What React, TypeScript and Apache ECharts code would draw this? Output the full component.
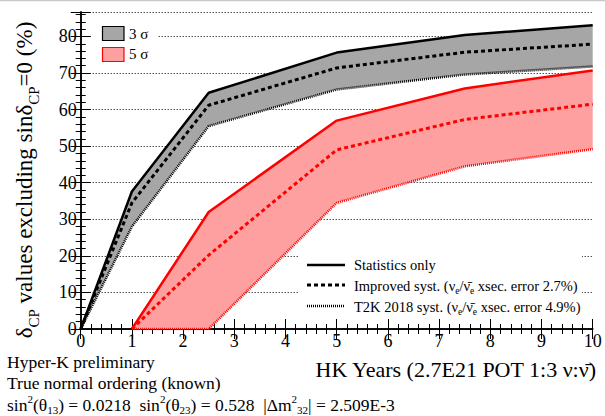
import React, { useEffect, useRef } from 'react';
import * as echarts from 'echarts';

const years = [0, 1, 2.5, 5, 7.5, 10];
const sigma3Stat = [0, 37.6, 64.6, 75.6, 80.4, 83.1];
const sigma3Improved = [0, 34.5, 61.2, 71.4, 75.7, 77.9];
const sigma3T2K = [0, 28, 55.5, 65.5, 69.6, 71.8];

const years5 = [1, 2.5, 5, 7.5, 10];
const sigma5Stat = [0, 32, 57, 65.8, 70.7];
const sigma5Improved = [0, 20.2, 49, 57.3, 61.5];
const sigma5T2K = [0, 0, 34.5, 44.5, 49.2];

const yTickValues = [0, 10, 20, 30, 40, 50, 60, 70, 80];
const xTickValues = [0, 1, 2, 3, 4, 5, 6, 7, 8, 9, 10];

const FONT = '"Liberation Serif", "Times New Roman", serif';
const GREY = '#a6a6a6';
const PINK = '#ffa0a0';

const pairs = (xs: number[], ys: number[]) => xs.map((x, i) => [x, ys[i]]);

export default function App() {
  const ref = useRef<HTMLDivElement>(null);
  useEffect(() => {
    if (!ref.current) return;
    const chart = echarts.init(ref.current, null, { renderer: 'svg' });

    const tick = { show: true, inside: true, length: 10, lineStyle: { color: '#000', width: 1 } };
    const minor = { show: true, splitNumber: 5, length: 5, lineStyle: { color: '#000', width: 1 } };
    const axisLine = { show: true, lineStyle: { color: '#000', width: 1.5 } };

    const lineSeries = (xs: number[], ys: number[], color: string, type: any, width: number) => ({
      type: 'line',
      data: pairs(xs, ys),
      symbol: 'none',
      z: 5,
      lineStyle: { color, type, width, cap: 'butt' },
      silent: true,
    });

    const band = (xs: number[], lo: number[], hi: number[], color: string) => ({
      type: 'custom',
      data: xs.map((x, i) => [x, lo[i], hi[i]]),
      encode: { x: 0, y: [1, 2] },
      z: 2,
      silent: true,
      renderItem: (params: any, api: any) => {
        if (params.dataIndex !== 0) return null;
        const top = xs.map((x, i) => api.coord([x, hi[i]]));
        const bottom = xs.map((x, i) => api.coord([x, lo[i]])).reverse();
        return {
          type: 'polygon',
          shape: { points: [...top, ...bottom] },
          style: { fill: color },
        };
      },
    });

    const option: any = {
      animation: false,
      grid: { left: 80.7, right: 12.3, top: 12, bottom: 87, containLabel: false },
      xAxis: [
        {
          type: 'value',
          min: 0,
          max: 10,
          interval: 1,
          position: 'bottom',
          axisLine,
          axisTick: tick,
          minorTick: minor,
          splitLine: { show: false },
          axisLabel: {
            color: '#000',
            fontFamily: FONT,
            fontSize: 18,
            lineHeight: 14,
            margin: 5,
            formatter: (v: number) => (xTickValues.includes(v) ? String(v) : ''),
          },
        },
        {
          type: 'value',
          min: 0,
          max: 10,
          interval: 1,
          position: 'top',
          axisLine,
          axisTick: tick,
          minorTick: minor,
          splitLine: { show: false },
          axisLabel: { show: false },
        },
      ],
      yAxis: [
        {
          type: 'value',
          min: 0,
          max: 86.7,
          interval: 10,
          position: 'left',
          axisLine,
          axisTick: tick,
          minorTick: minor,
          splitLine: { show: true, lineStyle: { color: '#000', type: [1, 2], width: 1 } },
          axisLabel: {
            color: '#000',
            fontFamily: FONT,
            fontSize: 18,
            margin: 4,
            showMaxLabel: false,
            formatter: (v: number) => (yTickValues.includes(v) ? String(v) : ''),
          },
        },
        {
          type: 'value',
          min: 0,
          max: 86.7,
          interval: 10,
          position: 'right',
          axisLine,
          axisTick: tick,
          minorTick: minor,
          splitLine: { show: false },
          axisLabel: { show: false },
        },
      ],
      series: [
        band(years, sigma3T2K, sigma3Stat, GREY),
        band(years5, sigma5T2K, sigma5Stat, PINK),
        lineSeries(years, sigma3T2K, '#000', [1, 1], 2.5),
        lineSeries(years, sigma3Improved, '#000', [4, 3], 3),
        lineSeries(years, sigma3Stat, '#000', 'solid', 2.5),
        lineSeries(years5, sigma5T2K, '#ff0000', [1, 1], 2.5),
        lineSeries(years5, sigma5Improved, '#ff0000', [4, 3], 3),
        lineSeries(years5, sigma5Stat, '#ff0000', 'solid', 2.5),
      ],
      graphic: [
        { type: 'line', z: 51, shape: { x1: 0, y1: 0.5, x2: 605, y2: 0.5 }, style: { stroke: '#c8c8c8', lineWidth: 1.5 } },
        // top-left legend
        { type: 'rect', z: 50, shape: { x: 92, y: 20, width: 66, height: 46 }, style: { fill: '#fff' } },
        { type: 'rect', z: 51, shape: { x: 102.5, y: 26.5, width: 21.5, height: 14 }, style: { fill: GREY, stroke: '#000', lineWidth: 1.2 } },
        { type: 'text', z: 51, x: 129, y: 34, style: { text: '3 σ', fontFamily: FONT, fontSize: 15, fill: '#000', verticalAlign: 'middle' } },
        { type: 'rect', z: 51, shape: { x: 102.5, y: 47.5, width: 21.5, height: 14 }, style: { fill: PINK, stroke: '#ff0000', lineWidth: 1.2 } },
        { type: 'text', z: 51, x: 129, y: 54, style: { text: '5 σ', fontFamily: FONT, fontSize: 15, fill: '#000', verticalAlign: 'middle' } },
        // bottom-right legend
        { type: 'rect', z: 50, shape: { x: 298, y: 252, width: 284, height: 66 }, style: { fill: '#fff' } },
        { type: 'line', z: 51, shape: { x1: 307, y1: 265, x2: 345, y2: 265 }, style: { stroke: '#000', lineWidth: 2.5 } },
        { type: 'line', z: 51, shape: { x1: 307, y1: 285, x2: 345, y2: 285 }, style: { stroke: '#000', lineWidth: 3, lineDash: [4, 3] } },
        { type: 'line', z: 51, shape: { x1: 307, y1: 306, x2: 345, y2: 306 }, style: { stroke: '#000', lineWidth: 2.5, lineDash: [1, 1] } },
        {
          type: 'text', z: 51, x: 354, y: 265,
          style: { text: 'Statistics only', fontFamily: FONT, fontSize: 14.5, fill: '#000', verticalAlign: 'middle' },
        },
        {
          type: 'text', z: 51, x: 354, y: 286,
          style: {
            text: '{n|Improved syst. (ν}{s|e}{n|/ν\u0304}{s|e}{n| xsec. error 2.7%)}',
            verticalAlign: 'middle',
            rich: {
              n: { fontFamily: FONT, fontSize: 14.5, lineHeight: 20, fill: '#000', verticalAlign: 'middle' },
              s: { fontFamily: FONT, fontSize: 9.5, lineHeight: 10, fill: '#000', verticalAlign: 'bottom' },
            },
          },
        },
        {
          type: 'text', z: 51, x: 354, y: 307,
          style: {
            text: '{n|T2K 2018 syst. (ν}{s|e}{n|/ν\u0304}{s|e}{n| xsec. error 4.9%)}',
            verticalAlign: 'middle',
            rich: {
              n: { fontFamily: FONT, fontSize: 14.5, lineHeight: 20, fill: '#000', verticalAlign: 'middle' },
              s: { fontFamily: FONT, fontSize: 9.5, lineHeight: 10, fill: '#000', verticalAlign: 'bottom' },
            },
          },
        },
        // y-axis title
        {
          type: 'text', z: 51, x: 24, y: 180, rotation: Math.PI / 2,
          style: {
            text: '{m|δ}{s|CP}{m| values excluding sinδ}{s|CP}{m|=0 (%)}',
            align: 'center',
            verticalAlign: 'middle',
            rich: {
              m: { fontFamily: FONT, fontSize: 23, lineHeight: 34, fill: '#000', verticalAlign: 'middle' },
              s: { fontFamily: FONT, fontSize: 15, lineHeight: 15, fill: '#000', verticalAlign: 'bottom' },
            },
          },
        },
        // x-axis title
        {
          type: 'text', z: 51, x: 596, y: 369,
          style: {
            text: 'HK Years (2.7E21 POT 1:3 ν:ν\u0304)',
            fontFamily: FONT, fontSize: 22, fill: '#000', align: 'right', verticalAlign: 'middle',
          },
        },
        // bottom notes
        {
          type: 'text', z: 51, x: 7, y: 361.5,
          style: { text: 'Hyper-K preliminary', fontFamily: FONT, fontSize: 17.5, lineHeight: 18, fill: '#000', verticalAlign: 'middle' },
        },
        {
          type: 'text', z: 51, x: 7, y: 383,
          style: { text: 'True normal ordering (known)', fontFamily: FONT, fontSize: 17.5, lineHeight: 18, fill: '#000', verticalAlign: 'middle' },
        },
        {
          type: 'text', z: 51, x: 7, y: 404.5,
          style: {
            text: '{n|sin}{p|2}{n|(θ}{b|13}{n|) = 0.0218  sin}{p|2}{n|(θ}{b|23}{n|) = 0.528  |Δm}{p|2}{b|32}{n|| = 2.509E-3}',
            verticalAlign: 'middle',
            rich: {
              n: { fontFamily: FONT, fontSize: 17.5, lineHeight: 22, fill: '#000', verticalAlign: 'middle' },
              p: { fontFamily: FONT, fontSize: 11, lineHeight: 11, fill: '#000', verticalAlign: 'top' },
              b: { fontFamily: FONT, fontSize: 11, lineHeight: 11, fill: '#000', verticalAlign: 'bottom' },
            },
          },
        },
      ],
    };

    chart.setOption(option);
    return () => chart.dispose();
  }, []);

  return <div ref={ref} style={{ position: 'absolute', left: 0, top: 0, width: 605, height: 416 }} />;
}
